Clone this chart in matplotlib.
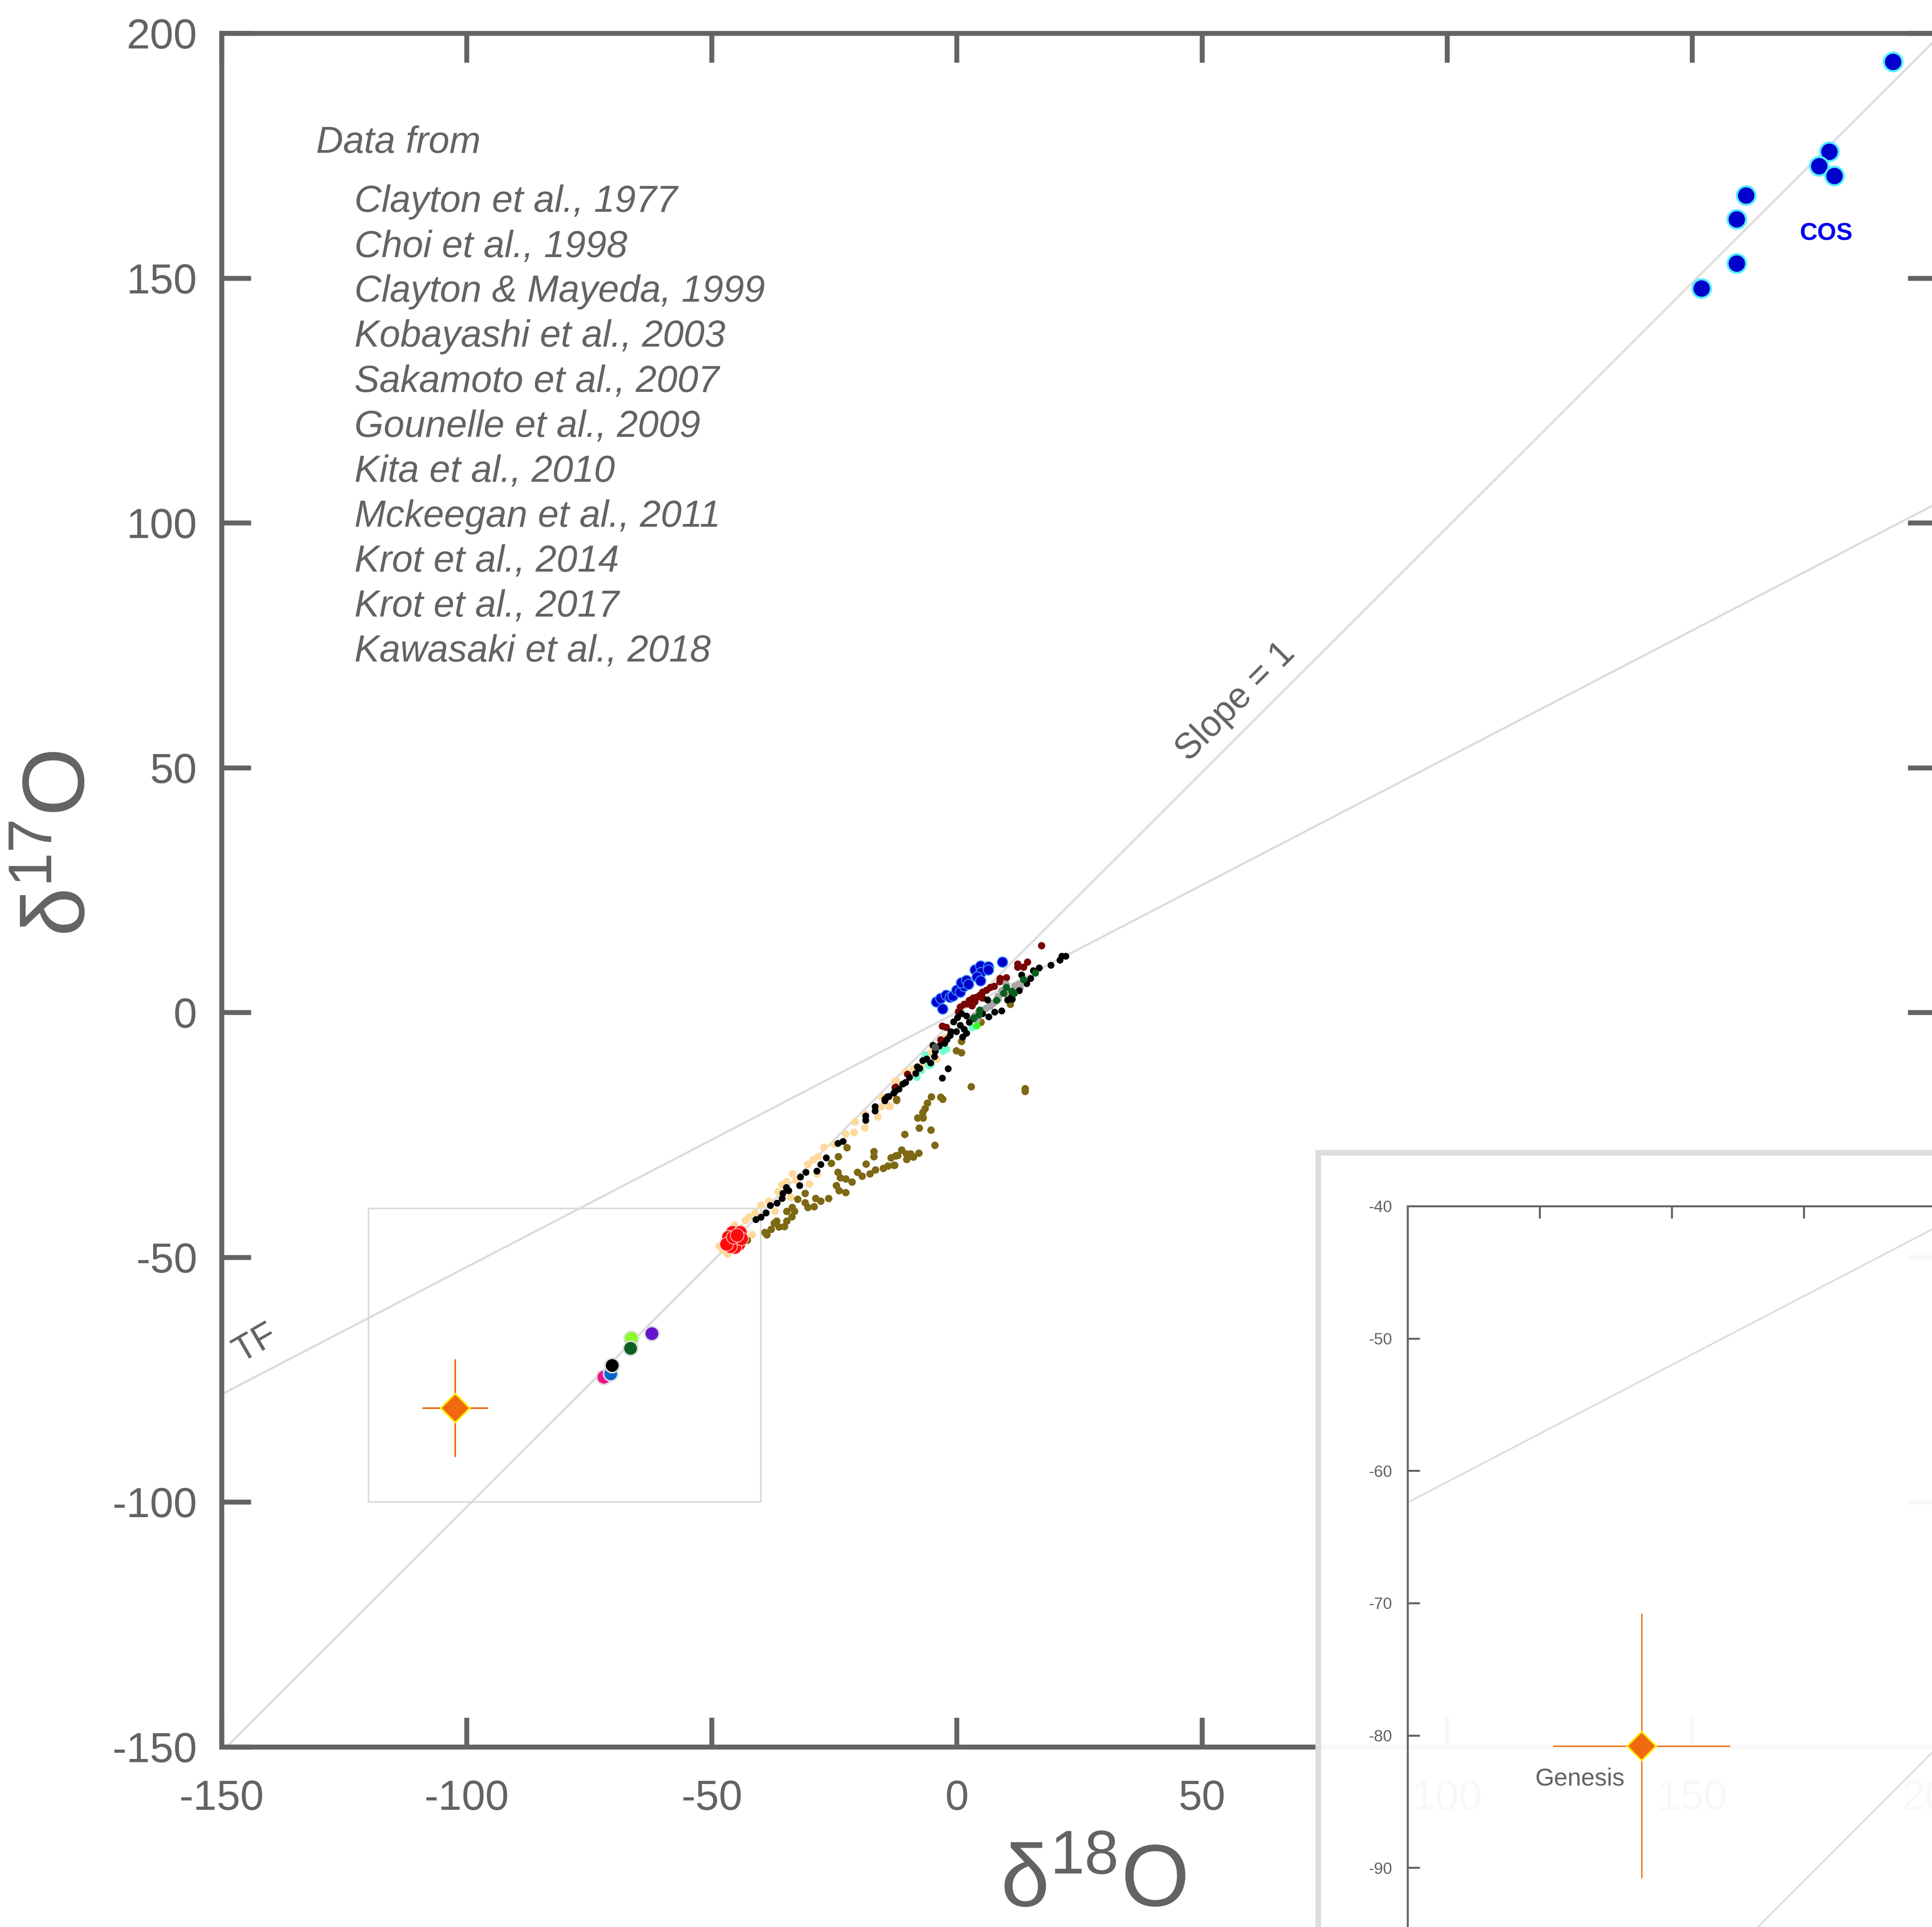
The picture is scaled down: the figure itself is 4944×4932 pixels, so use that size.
import numpy as np
import matplotlib.pyplot as plt
from matplotlib.patches import Rectangle

plt.rcParams['font.family'] = ['Liberation Sans', 'DejaVu Sans']
plt.rcParams['axes.unicode_minus'] = False
plt.rcParams['mathtext.default'] = 'regular'

GRAY = '#636363'
LINE = '#DCDCDC'

# reference lines: d17O = slope * d18O + intercept
tf_slope, tf_icpt = 0.52, 0.0
s1_slope, s1_icpt = 1.0, -1.0

# data, (d18O, d17O) in permil
peach_x = [-48.5, -46.8, -45.4, -43.2, -42.4, -41.8, -41.2, -40.0, -38.4, -37.1, -36.5, -35.7, -34.7,
           -33.5, -33.9, -32.8, -30.4, -30.1, -29.4, -28.3, -27.1, -28.5, -25.1, -22.7, -21.0, -20.8,
           -18.8, -18.7, -15.5, -13.7, -16.1, -15.3, -47.5, -44.0, -43.5, -47.8, -12.6, -12.3, -13.9,
           -13.9, -5.7, -4.9, -4.1, -2.5, -8.9, -10.5, -7.0]
peach_y = [-47.7, -49.3, -43.4, -42.4, -41.7, -45.4, -40.9, -39.3, -38.5, -40.6, -36.6, -35.2, -34.5,
           -32.9, -37.7, -34.2, -31.0, -35.0, -30.1, -29.4, -27.5, -32.9, -26.9, -24.8, -24.5, -22.3,
           -23.5, -20.7, -19.2, -19.1, -21.3, -17.2, -46.5, -44.0, -46.0, -48.5, -14.0, -14.0, -17.2,
           -19.1, -8.4, -7.1, -9.5, -5.0, -11.5, -12.0, -10.5]

olive_x = [-42.8, -39.2, -38.8, -37.9, -37.3, -36.8, -36.3, -35.2, -34.7, -34.7, -33.7, -33.6, -33.1,
           -32.5, -31.0, -31.0, -30.4, -29.1, -28.8, -27.8, -26.2, -25.6, -24.2, -24.3, -23.8, -24.6,
           -24.0, -22.7, -22.7, -22.4, -21.4, -20.3, -19.3, -18.5, -17.7, -16.9, -16.9, -16.6, -15.0,
           -13.4, -12.9, -12.1, -5.2, -6.0, -6.5, -7.0, -8.0, -6.9, -7.7, -5.3, -10.6, -2.9, -3.3,
           -4.5, -11.3, -10.3, -9.4, -10.2, -8.9, -7.8, -12.5, -13.4, -12.7, -14.1, 0.95, -0.1, 0.95,
           2.9, 4.9, 10.9, 13.9, 13.9, -12.3, -12.3]
olive_y = [-46.5, -44.9, -45.4, -44.3, -43.0, -42.6, -43.8, -43.7, -42.6, -40.6, -41.7, -39.8, -40.6,
           -38.1, -36.9, -38.8, -39.8, -39.6, -38.0, -38.5, -38.0, -30.8, -29.4, -32.6, -33.7, -35.3,
           -36.4, -34.0, -36.8, -27.6, -34.6, -32.6, -33.4, -30.9, -32.9, -29.4, -28.4, -32.1, -31.8,
           -29.7, -31.2, -29.2, -17.2, -18.5, -19.6, -20.4, -21.5, -21.5, -23.6, -24.0, -24.9, -17.7, -17.3,
           -27.1, -28.1, -28.9, -28.9, -30.0, -29.5, -28.7, -29.3, -29.7, -31.2, -31.3, -5.9, -7.8, -8.2,
           -15.1, -2.0, 1.7, -15.5, -16.1, -17.9, -17.7]

black_x = [-41.0, -40.0, -38.9, -38.1, -36.7, -35.7, -35.5, -34.8, -34.3, -32.1, -31.9, -30.8, -28.6,
           -27.8, -26.7, -24.3, -23.2, -18.6, -18.6, -16.7, -16.7, -14.7, -13.9, -12.9, -14.2,
           22.2, 21.4, 21.0, 19.2, 16.8, 15.6, 13.2, 15.0, 14.2, 12.7, 11.1, 11.3, 10.3, 9.1, 7.7,
           6.5, 6.3, 5.2, 3.3, 2.5, 2.0, 0.95, 0.15, -0.65, 0.7, 1.5, 2.0, 1.2, -0.1, -1.2, -1.4,
           -2.0, -2.5, -3.6, -4.9, -4.4, -4.6, -6.2, -7.0, -5.4, -8.1, -7.6, -8.4, -9.7, -10.5,
           -11.0, -11.8, -12.6, -13.9, -14.7, -1.8, -3.0]
black_y = [-42.3, -41.8, -40.9, -39.4, -38.9, -38.0, -36.9, -35.7, -36.4, -35.3, -33.6, -32.6, -32.4,
           -31.0, -29.7, -26.7, -26.3, -22.0, -21.1, -20.1, -19.2, -18.0, -17.1, -16.4, -17.2,
           11.5, 11.5, 10.7, 9.7, 9.1, 8.6, 7.7, 7.0, 5.9, 4.5, 3.1, 2.7, 2.6, 0.35, 0.1,
           -0.85, 2.6, -0.2, -1.25, -2.0, -0.7, -0.2, -1.0, -1.9, -2.6, -3.4, -4.2, -5.0, -3.9, -3.9, -4.7,
           -5.5, -6.3, -6.8, -6.7, -7.9, -9.0, -9.5, -9.8, -10.3, -11.1, -11.4, -12.4, -13.2, -14.3,
           -14.6, -15.6, -16.1, -17.1, -17.7, -11.5, -13.35]

dred_x = [17.3, 14.4, 12.4, 12.4, 13.6, 10.1, 8.8, 8.7, 7.6, 6.8, 6.0, 5.2, 4.7, 4.0, 3.3, 2.5, 2.3,
          1.5, 0.7, 0.3, -3.0, -2.2, -3.3, -10.1, -12.5, 3.6, 5.2, 3.1, -12.6]
dred_y = [13.65, 10.3, 9.9, 9.3, 9.3, 7.1, 7.0, 6.3, 5.4, 5.1, 4.6, 4.2, 3.5, 3.1, 3.0, 2.5, 1.8,
          1.7, 1.15, 0.2, -2.8, -3.0, -5.6, -12.55, -15.2, 2.2, 3.0, 1.4, -15.3]

gray_x = [10.0, 11.85, 12.65, 12.9, 9.1, 8.4, 8.4, 7.5, 6.8, 6.0, 5.2, 4.4, 3.6, 4.1, 11.05, 10.5]
gray_y = [5.8, 5.4, 5.8, 5.1, 4.5, 3.3, 2.7, 1.95, 1.4, 0.9, 0.5, 0.1, -0.7, -1.5, 4.3, 3.5]

dgreen_x = [16.0, 13.6, 10.1, 9.5, 11.2, 11.7, 8.1, 4.7, 3.5, 4.5]
dgreen_y = [8.1, 6.7, 5.1, 3.9, 4.3, 3.9, 2.5, 0.5, -1.1, -0.45]

aqua_x = [-6.5, -5.8, -5.2, -7.3, -8.2, -2.8, -2.1, 3.1]
aqua_y = [-8.7, -10.8, -10.6, -11.9, -13.2, -7.9, -7.5, -3.1]

lime_x, lime_y = [4.0], [-2.7]
dgray_x, dgray_y = [-4.4], [-7.1]

blue_x = [-4.2, -2.9, -3.3, -2.2, -1.4, -0.8, 0.0, 0.7, 1.5, 0.95, 2.0, 2.4, 3.7, 4.8, 4.9, 4.1,
          4.8, 6.4, 6.4, 9.3]
blue_y = [2.2, 0.75, 2.9, 3.5, 3.1, 3.4, 4.6, 4.2, 5.4, 6.1, 6.6, 5.8, 8.7, 9.5, 8.2, 7.3,
          6.5, 9.4, 8.7, 10.3]

red_x = [-45.8, -44.2, -46.6, -45.0, -46.4, -44.5, -45.3, -46.2, -47.0, -44.0, -45.6, -44.8]
red_y = [-44.9, -44.9, -45.9, -46.7, -47.0, -47.3, -47.9, -47.8, -47.3, -46.2, -45.9, -45.5]

cos_x = [191.0, 178.0, 175.9, 179.0, 161.0, 159.1, 159.1, 151.9]
cos_y = [194.2, 175.8, 172.9, 170.9, 166.9, 162.0, 153.0, 147.9]

single_x = [-72.0, -70.6, -70.3, -66.4, -66.55, -62.2]
single_y = [-74.5, -73.8, -72.1, -66.6, -68.6, -65.6]
single_c = ['#F0108F', '#0066CC', '#000000', '#88FF22', '#0B5E1E', '#6614CC']

gen_x, gen_y = -102.3, -80.8
gen_xerr, gen_yerr = 6.7, 10.0

refs = ['Clayton et al., 1977', 'Choi et al., 1998', 'Clayton & Mayeda, 1999',
        'Kobayashi et al., 2003', 'Sakamoto et al., 2007', 'Gounelle et al., 2009',
        'Kita et al., 2010', 'Mckeegan et al., 2011', 'Krot et al., 2014',
        'Krot et al., 2017', 'Kawasaki et al., 2018']


def draw_data(a, ebw):
    xs = np.array([-200, 250])
    a.plot(xs, tf_slope * xs + tf_icpt, color=LINE, lw=ebw * 1.3, zorder=1)
    a.plot(xs, s1_slope * xs + s1_icpt, color=LINE, lw=ebw * 1.3, zorder=1)
    kw = dict(linewidths=0, zorder=3)
    a.scatter(peach_x, peach_y, s=22, c='#FFD89B', **kw)
    a.scatter(olive_x, olive_y, s=21, c='#7D6914', **kw)
    a.scatter(aqua_x, aqua_y, s=20, c='#6EFFD0', **kw)
    a.scatter(dred_x, dred_y, s=20, c='#780404', **kw)
    a.scatter(gray_x, gray_y, s=21, c='#A6A6A6', **kw)
    a.scatter(black_x, black_y, s=18, c='#000000', **kw)
    a.scatter(dgreen_x, dgreen_y, s=20, c='#0B5E1E', **kw)
    a.scatter(lime_x, lime_y, s=20, c='#33FF22', **kw)
    a.scatter(dgray_x, dgray_y, s=20, c='#555555', **kw)
    a.scatter(blue_x, blue_y, s=40, c='#0000CC', edgecolors='#3A8DFF', linewidths=0.6, zorder=4)
    a.scatter(red_x, red_y, s=70, c='#FF0A0A', edgecolors='#FFC4C4', linewidths=0.5, zorder=4)
    a.scatter(cos_x, cos_y, s=130, c='#0000CC', edgecolors='#55EEFF', linewidths=1.3, zorder=4)
    a.scatter(single_x, single_y, s=78, c=single_c, edgecolors='#DDDDDD', linewidths=1.0, zorder=4)
    a.errorbar(gen_x, gen_y, xerr=gen_xerr, yerr=gen_yerr, fmt='D', ms=12.5,
               mfc='#F0690F', mec='#FFEE00', mew=1.0, ecolor='#F0690F',
               elinewidth=ebw, capsize=0, zorder=6)


fig = plt.figure(figsize=(16.48, 16.44), dpi=300)
ax = fig.add_axes([0.11468, 0.09347, 0.88794, 0.88929])
draw_data(ax, 1.0)
ax.add_patch(Rectangle((-120, -100), 80, 60, fill=False, ec='#DADADA', lw=1.0, zorder=2))

ax.set_xlim(-150, 200)
ax.set_ylim(-150, 200)
ax.set_xticks(np.arange(-150, 201, 50))
ax.set_yticks(np.arange(-150, 201, 50))
ax.tick_params(direction='in', length=18, width=3, colors=GRAY, labelsize=26,
               top=True, right=True)
ax.tick_params(axis='x', pad=20)
ax.tick_params(axis='y', pad=15)
for sp in ax.spines.values():
    sp.set_color(GRAY)
    sp.set_linewidth(3)

ax.set_xlabel('δ$^{18}$O', fontsize=54, color=GRAY, va='center')
ax.xaxis.set_label_coords(0.508, -0.0796)
ax.set_ylabel('δ$^{17}$O', fontsize=54, color=GRAY, va='center')
ax.yaxis.set_label_coords(-0.0932, 0.527)

ax.text(-143.1, -67.7, 'TF', rotation=30, ha='center', va='center', fontsize=22, color=GRAY)
ax.text(56.9, 63.4, 'Slope = 1', rotation=45, ha='center', va='center', fontsize=22, color=GRAY)
ax.text(177.4, 159.1, 'COS', ha='center', va='center', fontsize=15, fontweight='bold',
        color='#0000EE')

ax.text(-130.7, 177.6, 'Data from', style='italic', fontsize=23, color=GRAY, va='center')
for i, r in enumerate(refs):
    ax.text(-122.9, 165.5 - 9.18 * i, r, style='italic', fontsize=23, color=GRAY, va='center')

# white panel behind the zoomed inset
panel = Rectangle((0.6822, -0.2), 0.6, 0.6019, transform=fig.transFigure,
                  fc=(1, 1, 1, 0.965), ec='#DDDDDD', lw=3.5, zorder=5)
fig.add_artist(panel)

ins = fig.add_axes([0.7286, -0.0379, 0.547, 0.4120], zorder=10)
ins.set_facecolor('none')
draw_data(ins, 0.8)
ins.set_xlim(-120, -40)
ins.set_ylim(-100, -40)
ins.set_xticks(np.arange(-120, -39, 10))
ins.set_yticks(np.arange(-100, -39, 10))
ins.tick_params(direction='in', length=7.5, width=1.2, colors=GRAY, labelsize=10,
                top=True, right=True, labelbottom=False, pad=9.5)
for sp in ins.spines.values():
    sp.set_color(GRAY)
    sp.set_linewidth(1.2)
ins.text(-106.95, -83.3, 'Genesis', ha='center', va='center', fontsize=15, color=GRAY)

fig.savefig('out.png', dpi=300)
